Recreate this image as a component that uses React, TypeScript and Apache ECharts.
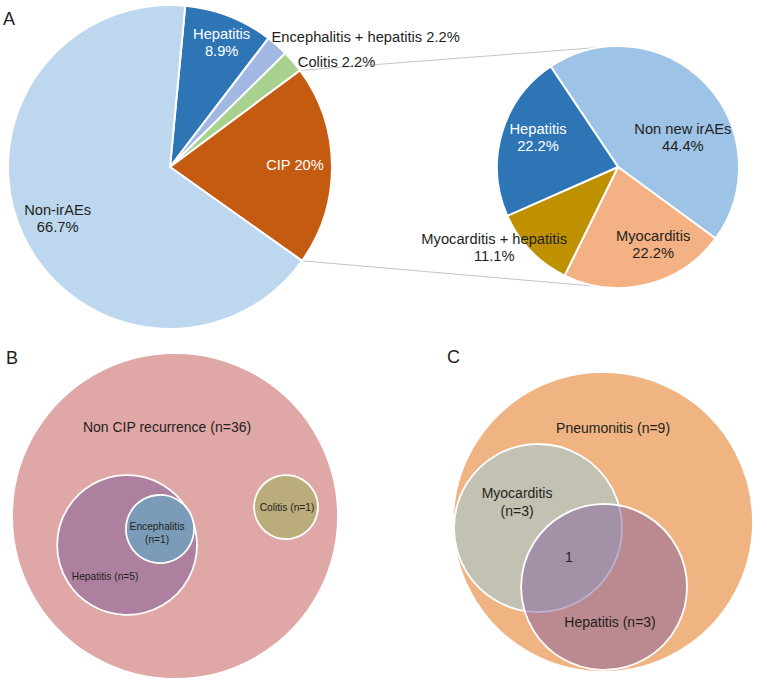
import React, { useEffect, useRef } from 'react';
import * as echarts from 'echarts';

// ---------- data ----------
const pieACategories = ['Hepatitis', 'Encephalitis + hepatitis', 'Colitis', 'CIP', 'Non-irAEs'];
const pieACounts = [4, 1, 1, 9, 30];
const pieAPercents = ['8.9%', '2.2%', '2.2%', '20%', '66.7%'];

const pieA2Categories = ['Non new irAEs', 'Myocarditis', 'Myocarditis + hepatitis', 'Hepatitis'];
const pieA2Counts = [4, 2, 1, 2];
const pieA2Percents = ['44.4%', '22.2%', '11.1%', '22.2%'];

const vennBNames = ['Non CIP recurrence', 'Hepatitis', 'Encephalitis', 'Colitis'];
const vennBCounts = [36, 5, 1, 1];

const vennCNames = ['Pneumonitis', 'Myocarditis', 'Hepatitis'];
const vennCCounts = [9, 3, 3];
const vennCOverlap = 1;

// ---------- styles / layout ----------
const FONT = '"Liberation Sans", Arial, Helvetica, sans-serif';
const TXT = '#231f20';

const pieAColors = ['#2E75B6', '#A3B7E3', '#A9D18E', '#C55A11', '#BDD7EE'];
const pieALabelColors = ['#fff', TXT, TXT, '#fff', TXT];
const pieASep = ['\n', ' ', ' ', ' ', '\n'];
const pieAShift: [number, number, string][] = [
  [21, -46, 'center'], [46, -67, 'left'], [64, -50, 'left'], [41, -1, 'center'], [-36, 17, 'center'],
];
const pieACenter = [170, 167];
const pieARadius = 162;
const pieAStart = 84.6;

const pieA2Colors = ['#9DC3E6', '#F4B183', '#BF9000', '#2E75B6'];
const pieA2LabelColors = [TXT, TXT, TXT, '#fff'];
const pieA2Shift: [number, number][] = [[19, 14], [20, 16], [-78, 37], [-19, -12]];
const pieA2Center = [618, 167];
const pieA2Radius = 121;
const pieA2Start = 123.8;

const vennBColors = ['#E0A7A7', '#AD809F', '#7B9BB8', '#BBAD7B'];
const vennBGeom = [[0, 0, 1], [-0.294, -0.178, 0.429], [-0.092, -0.08, 0.209], [0.681, 0.055, 0.196]];
const vennBLabelPos = [[-0.049, 0.546], [-0.429, -0.374], [-0.11, -0.104], [0.687, 0.055]];
const vennBLabelSize = [14, 10.2, 10.2, 10.2];

const vennCColors = ['#F0B482', '#C3C2B2', 'rgba(132,96,158,0.5)'];
const vennCGeom = [[0, 0, 1], [-0.433, -0.04, 0.56], [0.007, -0.433, 0.553]];
const vennCLabelPos = [[0.067, 0.627], [-0.573, 0.133], [0.047, -0.667], [-0.227, -0.233]];

function pt(c: number[], r: number, deg: number) {
  const a = (deg * Math.PI) / 180;
  return [c[0] + r * Math.sin(a), c[1] - r * Math.cos(a)];
}

export default function App() {
  const ref = useRef<HTMLDivElement>(null);
  useEffect(() => {
    const chart = echarts.init(ref.current!, null, { renderer: 'svg' });

    // connector lines from CIP slice to second pie
    const totalA = pieACounts.reduce((a, b) => a + b, 0);
    const cipIdx = 3;
    const before = pieACounts.slice(0, cipIdx).reduce((a, b) => a + b, 0);
    const off = 90 - pieAStart;
    const cipStart = off + (before / totalA) * 360;
    const cipEnd = cipStart + (pieACounts[cipIdx] / totalA) * 360;
    const p1 = pt(pieACenter, pieARadius, cipStart);
    const p2 = pt(pieACenter, pieARadius, cipEnd);
    const q1 = pt(pieA2Center, pieA2Radius, -8.5);
    const q2 = pt(pieA2Center, pieA2Radius, 188.5);

    const vennBLabels = vennBNames.map((n, i) => (i === 2 ? `${n}\n(n=${vennBCounts[i]})` : `${n} (n=${vennBCounts[i]})`));
    const vennCLabels = [
      `${vennCNames[0]} (n=${vennCCounts[0]})`,
      `${vennCNames[1]}\n(n=${vennCCounts[1]})`,
      `${vennCNames[2]} (n=${vennCCounts[2]})`,
      String(vennCOverlap),
    ];

    const circleRender = (colors: string[]) => (params: any, api: any) => {
      const i = params.dataIndex;
      const c = api.coord([api.value(0), api.value(1)]);
      const s = api.size([api.value(2), api.value(2)]);
      return {
        type: 'circle',
        shape: { cx: c[0], cy: c[1], r: s[0] },
        style: { fill: colors[i], stroke: '#fff', lineWidth: 1.8 },
      };
    };
    const textRender = (labels: string[], sizes: number[]) => (params: any, api: any) => {
      const i = params.dataIndex;
      const c = api.coord([api.value(0), api.value(1)]);
      return {
        type: 'text',
        x: c[0],
        y: c[1],
        style: {
          text: labels[i],
          fill: TXT,
          fontSize: sizes[i],
          fontFamily: FONT,
          lineHeight: sizes[i] * 1.3,
          align: 'center',
          verticalAlign: 'middle',
        },
      };
    };

    const option: any = {
      animation: false,
      backgroundColor: '#fff',
      grid: [
        { left: 12, top: 353, width: 326, height: 326 },
        { left: 453, top: 372, width: 300, height: 300 },
      ],
      xAxis: [
        { type: 'value', gridIndex: 0, min: -1, max: 1, show: false },
        { type: 'value', gridIndex: 1, min: -1, max: 1, show: false },
      ],
      yAxis: [
        { type: 'value', gridIndex: 0, min: -1, max: 1, show: false },
        { type: 'value', gridIndex: 1, min: -1, max: 1, show: false },
      ],
      graphic: [
        { type: 'line', z: 0, shape: { x1: p1[0], y1: p1[1], x2: q1[0], y2: q1[1] }, style: { stroke: '#C4C4C4', lineWidth: 1 } },
        { type: 'line', z: 0, shape: { x1: p2[0], y1: p2[1], x2: q2[0], y2: q2[1] }, style: { stroke: '#C4C4C4', lineWidth: 1 } },
        { type: 'text', x: 3, y: 19, style: { text: 'A', fontSize: 18, fontFamily: FONT, fill: TXT, verticalAlign: 'middle' } },
        { type: 'text', x: 6, y: 358, style: { text: 'B', fontSize: 18, fontFamily: FONT, fill: TXT, verticalAlign: 'middle' } },
        { type: 'text', x: 447, y: 357, style: { text: 'C', fontSize: 18, fontFamily: FONT, fill: TXT, verticalAlign: 'middle' } },
      ],
      series: [
        {
          type: 'pie',
          silent: true,
          center: pieACenter,
          radius: pieARadius,
          startAngle: pieAStart,
          clockwise: true,
          avoidLabelOverlap: false,
          itemStyle: { borderColor: '#fff', borderWidth: 2 },
          labelLine: { show: false },
          label: {
            show: true,
            position: 'inside',
            fontSize: 14.7,
            fontFamily: FONT,
            lineHeight: 17,
            formatter: (p: any) => `${p.name}${pieASep[p.dataIndex]}${pieAPercents[p.dataIndex]}`,
          },
          labelLayout: (p: any) => {
            const s = pieAShift[p.dataIndex];
            return { dx: s[0], dy: s[1], align: s[2] };
          },
          data: pieACategories.map((name, i) => ({
            name,
            value: pieACounts[i],
            itemStyle: { color: pieAColors[i] },
            label: { color: pieALabelColors[i] },
          })),
        },
        {
          type: 'pie',
          silent: true,
          center: pieA2Center,
          radius: pieA2Radius,
          startAngle: pieA2Start,
          clockwise: true,
          avoidLabelOverlap: false,
          itemStyle: { borderColor: '#fff', borderWidth: 2 },
          labelLine: { show: false },
          label: {
            show: true,
            position: 'inside',
            fontSize: 14.7,
            fontFamily: FONT,
            lineHeight: 17,
            formatter: (p: any) => `${p.name}\n${pieA2Percents[p.dataIndex]}`,
          },
          labelLayout: (p: any) => {
            const s = pieA2Shift[p.dataIndex];
            return { dx: s[0], dy: s[1] };
          },
          data: pieA2Categories.map((name, i) => ({
            name,
            value: pieA2Counts[i],
            itemStyle: { color: pieA2Colors[i] },
            label: { color: pieA2LabelColors[i] },
          })),
        },
        {
          type: 'custom',
          silent: true,
          xAxisIndex: 0,
          yAxisIndex: 0,
          renderItem: circleRender(vennBColors),
          data: vennBGeom,
        },
        {
          type: 'custom',
          silent: true,
          xAxisIndex: 0,
          yAxisIndex: 0,
          z: 3,
          renderItem: textRender(vennBLabels, vennBLabelSize),
          data: vennBLabelPos,
        },
        {
          type: 'custom',
          silent: true,
          xAxisIndex: 1,
          yAxisIndex: 1,
          renderItem: circleRender(vennCColors),
          data: vennCGeom,
        },
        {
          type: 'custom',
          silent: true,
          xAxisIndex: 1,
          yAxisIndex: 1,
          z: 3,
          renderItem: textRender(vennCLabels, [14, 14, 14, 14]),
          data: vennCLabelPos,
        },
      ],
    };
    chart.setOption(option);
    return () => chart.dispose();
  }, []);
  return (
    <div
      ref={ref}
      style={{ position: 'absolute', left: 0, top: 0, width: 767, height: 681, background: '#fff' }}
    />
  );
}
